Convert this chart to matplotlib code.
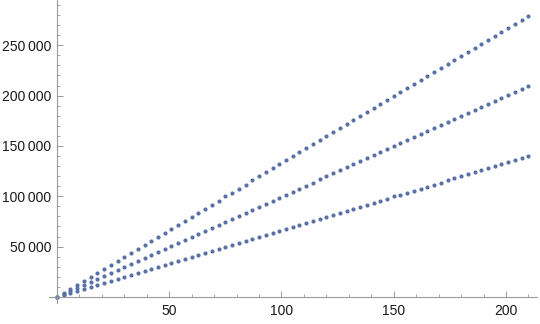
import matplotlib
matplotlib.use("Agg")
import matplotlib.pyplot as plt

x_vals = [0, 3, 6, 9, 12, 15, 18, 21, 24, 27, 30, 33, 36, 39, 42, 45, 48, 51, 54, 57,
          60, 63, 66, 69, 72, 75, 78, 81, 84, 87, 90, 93, 96, 99, 102, 105, 108, 111, 114, 117,
          120, 123, 126, 129, 132, 135, 138, 141, 144, 147, 150, 153, 156, 159, 162, 165, 168, 171, 174, 177,
          180, 183, 186, 189, 192, 195, 198, 201, 204, 207, 210]

low = [0, 2000, 4000, 6000, 8000, 10000, 12000, 14000, 16000, 18000, 20000, 21900, 23900, 25900, 27900, 29900,
       31900, 33900, 35900, 37900, 39900, 41900, 43900, 45900, 47900, 49900, 51900, 53900, 55900, 57900,
       59900, 61800, 63800, 65800, 67800, 69800, 71800, 73800, 75800, 77800, 79800, 81800, 83800, 85800,
       87800, 89800, 91800, 93800, 95800, 97800, 99800, 101700, 103700, 105700, 107700, 109700, 111700,
       113700, 115700, 117700, 119700, 121700, 123700, 125700, 127700, 129700, 131700, 133700, 135700,
       137700, 139700]

mid = [0, 3000, 6000, 9000, 12000, 15000, 18000, 20900, 23900, 26900, 29900, 32900, 35900, 38900, 41900,
       44900, 47900, 50900, 53900, 56900, 59900, 62800, 65800, 68800, 71800, 74800, 77800, 80800, 83800,
       86800, 89800, 92800, 95800, 98800, 101700, 104700, 107700, 110700, 113700, 116700, 119700, 122700,
       125700, 128700, 131700, 134700, 137700, 140600, 143600, 146600, 149600, 152600, 155600, 158600,
       161600, 164600, 167600, 170600, 173600, 176600, 179600, 182500, 185500, 188500, 191500, 194500,
       197500, 200500, 203500, 206500, 209500]

high = [0, 4000, 8000, 12000, 16000, 20000, 23900, 27900, 31900, 35900, 39900, 43900, 47900, 51900, 55900,
        59900, 63800, 67800, 71800, 75800, 79800, 83800, 87800, 91800, 95800, 99800, 103700, 107700, 111700,
        115700, 119700, 123700, 127700, 131700, 135700, 139700, 143600, 147600, 151600, 155600, 159600,
        163600, 167600, 171600, 175600, 179600, 183500, 187500, 191500, 195500, 199500, 203500, 207500,
        211500, 215500, 219500, 223400, 227400, 231400, 235400, 239400, 243400, 247400, 251400, 255400,
        259400, 263300, 267300, 271300, 275300, 279300]

x_ticks = [50, 100, 150, 200]
x_tick_labels = ["50", "100", "150", "200"]
y_ticks = [50000, 100000, 150000, 200000, 250000]
y_tick_labels = ["50\u2009000", "100\u2009000", "150\u2009000", "200\u2009000", "250\u2009000"]

plt.rcParams['font.family'] = ['Liberation Sans', 'DejaVu Sans']

fig = plt.figure(figsize=(5.4, 3.24), dpi=100)
ax = fig.add_axes([48.7 / 540, 21 / 324, (537.4 - 48.7) / 540, 303 / 324])

color = '#5a71a8'
for series in (high, mid, low):
    ax.plot(x_vals, series, linestyle='none', marker='o', markersize=3.0,
            markerfacecolor=color, markeredgewidth=0, clip_on=False)

ax.set_xlim(-3.7, 214)
ax.set_ylim(-6000, 295000)

for s in ('top', 'right'):
    ax.spines[s].set_visible(False)
ax.spines['left'].set_position(('data', 0))
ax.spines['bottom'].set_position(('data', 0))
for s in ('left', 'bottom'):
    ax.spines[s].set_color('#9a9a9a')
    ax.spines[s].set_linewidth(0.8)

ax.set_xticks(x_ticks)
ax.set_xticklabels(x_tick_labels)
ax.set_yticks(y_ticks)
ax.set_yticklabels(y_tick_labels)
ax.set_xticks(list(range(10, 211, 10)), minor=True)
ax.set_yticks(list(range(10000, 290001, 10000)), minor=True)

ax.tick_params(which='major', direction='in', length=4, width=0.7, color='#9a9a9a',
               labelsize=10, labelcolor='#1a1a1a', pad=5)
ax.tick_params(which='minor', direction='in', length=2.2, width=0.6, color='#9a9a9a')
ax.tick_params(axis='y', pad=4)

fig.savefig('out.png', dpi=100)
